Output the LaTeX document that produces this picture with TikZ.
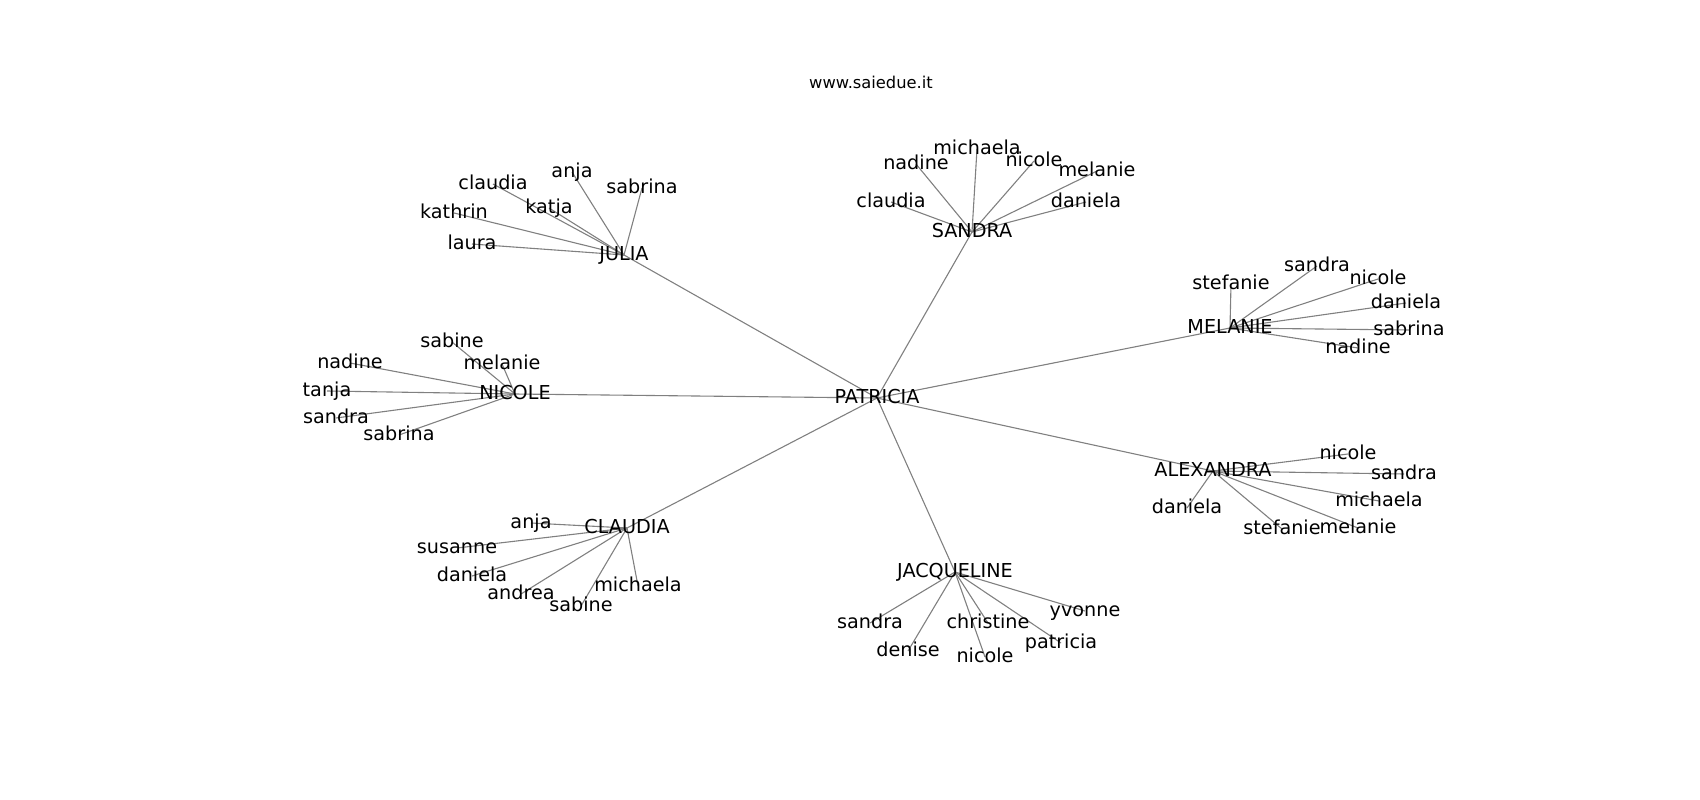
\documentclass[tikz,border=0pt]{standalone}
\usepackage{fontspec}
\setmainfont{DejaVu Sans}
\pgfdeclarelayer{bg}
\pgfsetlayers{bg,main}
\tikzset{
  lbl/.style={inner sep=0pt, anchor=center, text height=1.34em, text depth=0.23em,
    font=\fontsize{19.2}{22}\selectfont, text=black},
  hub/.style={lbl},
  leaf/.style={lbl},
  edge/.style={draw=black!50, line width=1.1pt},
  ttl/.style={inner sep=0pt, anchor=center, font=\fontsize{16.3}{19}\selectfont}
}
\begin{document}
\begin{tikzpicture}[x=1pt,y=-1pt]
\useasboundingbox (0,0) rectangle (1700,800);
\node[ttl] (title) at (871,82) {www.saiedue.it};
\node[hub] (P) at (877,398) {PATRICIA};
\node[hub] (JU) at (624,255) {JULIA};
\node[hub] (SA) at (972,232) {SANDRA};
\node[hub] (ME) at (1230,328) {MELANIE};
\node[hub] (NI) at (515,394) {NICOLE};
\node[hub] (AL) at (1213,471) {ALEXANDRA};
\node[hub] (CL) at (627,528) {CLAUDIA};
\node[hub] (JA) at (955,572) {JACQUELINE};
\begin{pgfonlayer}{bg}
\foreach \h in {JU,SA,ME,NI,AL,CL,JA} {\draw[edge] (P.center) -- (\h.center);}
\end{pgfonlayer}
\foreach \h/\n/\t/\x/\y in {
  JU/a/laura/472/244, JU/b/kathrin/454/213, JU/c/claudia/493/184, JU/d/katja/549/208, JU/e/anja/572/172, JU/f/sabrina/642/188,
  SA/a/claudia/891/202, SA/b/nadine/916/164, SA/c/michaela/977/149, SA/d/nicole/1034/161, SA/e/melanie/1097/171, SA/f/daniela/1086/202,
  ME/a/stefanie/1231/284, ME/b/sandra/1317/266, ME/c/nicole/1378/279, ME/d/daniela/1406/303, ME/e/sabrina/1409/330, ME/f/nadine/1358/348,
  NI/a/sabine/452/342, NI/b/melanie/502/364, NI/c/nadine/350/363, NI/d/tanja/327/391, NI/e/sandra/336/418, NI/f/sabrina/399/435,
  AL/a/nicole/1348/454, AL/b/sandra/1404/474, AL/c/michaela/1379/501, AL/d/melanie/1358/528, AL/e/stefanie/1282/529, AL/f/daniela/1187/508,
  CL/a/anja/531/523, CL/b/susanne/457/548, CL/c/daniela/472/576, CL/d/andrea/521/594, CL/e/sabine/581/606, CL/f/michaela/638/586,
  JA/a/sandra/870/623, JA/b/denise/908/651, JA/c/christine/988/623, JA/d/nicole/985/657, JA/e/patricia/1061/643, JA/f/yvonne/1085/611} {
  \node[leaf] (\h-\n) at (\x,\y) {\t};
  \begin{pgfonlayer}{bg}
  \draw[edge] (\h.center) -- (\h-\n.center);
  \end{pgfonlayer}
}
\end{tikzpicture}
\end{document}
